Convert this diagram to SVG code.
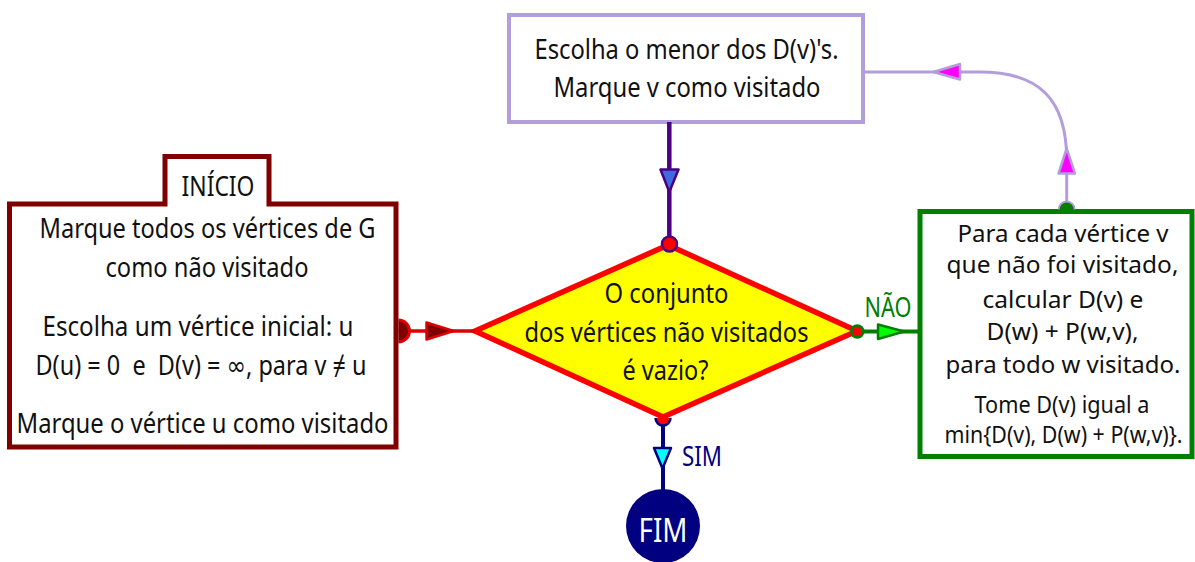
<svg xmlns="http://www.w3.org/2000/svg" width="1195" height="562" viewBox="0 0 1195 562">
<style>
  text { font-family: "Noto Sans", "DejaVu Sans", sans-serif; text-anchor: middle; fill: #111; }
  .big { font-size: 27px; }
  .mid { font-size: 23px; }
  .pre { white-space: pre; }
  .ah { stroke-width: 2.5; stroke-linejoin: round; }
</style>
<rect width="1195" height="562" fill="#ffffff"/>

<g id="node-inicio">
  <path d="M9.5,204 H165 V156.5 H269 V204 H396 V447 H9.5 Z" fill="#ffffff" stroke="#800000" stroke-width="5"/>
  <text class="big" x="218" y="196" textLength="73" lengthAdjust="spacingAndGlyphs">INÍCIO</text>
  <text class="big" x="207.5" y="238" textLength="336" lengthAdjust="spacingAndGlyphs">Marque todos os vértices de G</text>
  <text class="big" x="207" y="277" textLength="203" lengthAdjust="spacingAndGlyphs">como não visitado</text>
  <text class="big" x="198" y="336" textLength="311" lengthAdjust="spacingAndGlyphs">Escolha um vértice inicial: u</text>
  <text class="big pre" x="201" y="375" textLength="331" lengthAdjust="spacingAndGlyphs">D(u) = 0  e  D(v) = ∞, para v ≠ u</text>
  <text class="big" x="202.5" y="433" textLength="372" lengthAdjust="spacingAndGlyphs">Marque o vértice u como visitado</text>
</g>

<g id="node-escolha">
  <rect x="509" y="15" width="354" height="107" fill="#ffffff" stroke="#b39ddb" stroke-width="4"/>
  <text class="big" x="686.5" y="59" textLength="304" lengthAdjust="spacingAndGlyphs">Escolha o menor dos D(v)'s.</text>
  <text class="big" x="687" y="97" textLength="267" lengthAdjust="spacingAndGlyphs">Marque v como visitado</text>
</g>

<g id="node-decisao">
  <polygon points="668,245 857,331 663,417 475,331" fill="#ffff00" stroke="#ff0000" stroke-width="5.5" stroke-linejoin="miter"/>
  <text class="big" x="666.5" y="303" textLength="124" lengthAdjust="spacingAndGlyphs">O conjunto</text>
  <text class="big" x="666.5" y="342" textLength="284" lengthAdjust="spacingAndGlyphs">dos vértices não visitados</text>
  <text class="big" x="665.5" y="380" textLength="86" lengthAdjust="spacingAndGlyphs">é vazio?</text>
</g>

<g id="node-calculo">
  <rect x="920" y="211.5" width="272" height="245" fill="#ffffff" stroke="#008000" stroke-width="5"/>
  <text class="mid" x="1063" y="241.5" textLength="211" lengthAdjust="spacingAndGlyphs">Para cada vértice v</text>
  <text class="mid" x="1062.5" y="273" textLength="232" lengthAdjust="spacingAndGlyphs">que não foi visitado,</text>
  <text class="mid" x="1063" y="308" textLength="161" lengthAdjust="spacingAndGlyphs">calcular D(v) e</text>
  <text class="mid" x="1062.5" y="340" textLength="152" lengthAdjust="spacingAndGlyphs">D(w) + P(w,v),</text>
  <text class="mid" x="1063" y="373" textLength="235" lengthAdjust="spacingAndGlyphs">para todo w visitado.</text>
  <text class="mid" x="1062" y="412.5" textLength="175" lengthAdjust="spacingAndGlyphs">Tome D(v) igual a</text>
  <text class="mid" x="1063.5" y="443" textLength="238" lengthAdjust="spacingAndGlyphs">min{D(v), D(w) + P(w,v)}.</text>
</g>

<g id="node-fim">
  <circle cx="663" cy="526" r="37" fill="#000080"/>
  <text x="663" y="541.5" style="font-size:32px; fill:#ffffff" textLength="49" lengthAdjust="spacingAndGlyphs">FIM</text>
</g>

<g id="connectors">
  <!-- inicio -> decisao -->
  <path d="M398.5,331 H475" stroke="#dd0000" stroke-width="3.5" fill="none"/>
  <path d="M398.5,320 A11,11 0 0 1 398.5,342 Z" fill="#800000"/>
  <path d="M398.5,320 A11,11 0 0 1 398.5,342" fill="none" stroke="#e00000" stroke-width="3"/>
  <polygon class="ah" points="426.5,322.5 426.5,339.5 453.5,331" fill="#800000" stroke="#dd0000"/>

  <!-- decisao -> calculo (NÃO) -->
  <path d="M857,331.5 H920" stroke="#008000" stroke-width="4" fill="none"/>
  <circle cx="857.3" cy="331.5" r="6" fill="#ff0000" stroke="#008000" stroke-width="2.5"/>
  <polygon class="ah" points="878,324.5 878,339 904,331.5" fill="#00ff00" stroke="#008000"/>
  <text x="888" y="316.5" style="font-size:27px; fill:#008000" textLength="47" lengthAdjust="spacingAndGlyphs">NÃO</text>

  <!-- calculo -> escolha -->
  <path d="M1066.7,209 V160 C1066.7,100 1040,72 980,72 H863" stroke="#b39ddb" stroke-width="3" fill="none"/>
  <path d="M1058.7,209.5 A8,8 0 0 1 1074.7,209.5 Z" fill="#008000"/>
  <path d="M1058.7,209.5 A8,8 0 0 1 1074.7,209.5" fill="none" stroke="#b39ddb" stroke-width="2"/>
  <polygon class="ah" points="1058.5,173.5 1075,173.5 1066.7,148.5" fill="#ff00ff" stroke="#b39ddb"/>
  <polygon class="ah" points="960,64 960,79.5 933.5,72" fill="#ff00ff" stroke="#b39ddb"/>

  <!-- escolha -> decisao -->
  <path d="M669.3,122 V244" stroke="#4b0082" stroke-width="4.5" fill="none"/>
  <polygon class="ah" points="660.5,169.5 678.5,169.5 669.3,192" fill="#4169e1" stroke="#4b0082"/>
  <circle cx="669.5" cy="244" r="7.5" fill="#ff0000" stroke="#4b0082" stroke-width="2.5"/>

  <!-- decisao -> fim (SIM) -->
  <path d="M663,420 V490" stroke="#000080" stroke-width="4" fill="none"/>
  <path d="M655.5,418 A7.5,7.5 0 0 0 670.5,418 Z" fill="#ff0000"/>
  <path d="M655.5,418 A7.5,7.5 0 0 0 670.5,418" fill="none" stroke="#000080" stroke-width="2.5"/>
  <polygon class="ah" points="654,448 671,448 662.5,468.5" fill="#00ffff" stroke="#000080"/>
  <text x="702" y="466" style="font-size:27px; fill:#000080" textLength="40" lengthAdjust="spacingAndGlyphs">SIM</text>
</g>
</svg>
